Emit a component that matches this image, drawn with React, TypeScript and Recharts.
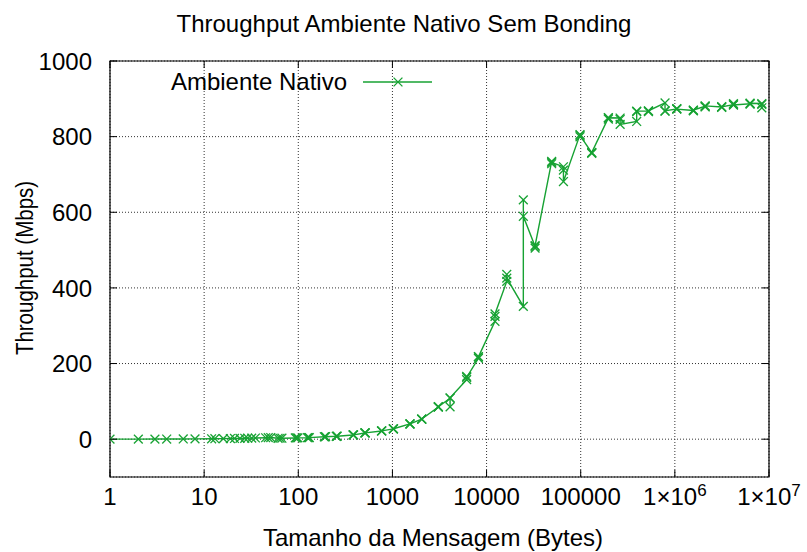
import React from "react";
import {
  LineChart,
  Line,
  XAxis,
  YAxis,
  CartesianGrid,
  ReferenceArea,
  Label,
} from "recharts";

// NetPIPE-style message sizes (bytes) and measured throughput (Mbps)
const messageSizes = [
  1, 2, 3, 4, 6, 8, 12, 13, 16, 19, 21, 24, 27, 29, 32, 35, 45, 48, 51, 61, 64, 67,
  93, 96, 99, 125, 128, 131, 189, 192, 195, 253, 256, 259, 381, 384, 387, 509, 512,
  515, 765, 768, 771, 1021, 1024, 1027, 1533, 1536, 1539, 2045, 2048, 2051, 3069,
  3072, 3075, 4093, 4096, 4099, 6141, 6144, 6147, 8189, 8192, 8195, 12285, 12288,
  12291, 16381, 16384, 16387, 24573, 24576, 24579, 32765, 32768, 32771, 49149, 49152,
  49155, 65533, 65536, 65539, 98301, 98304, 98307, 131069, 131072, 131075, 196605,
  196608, 196611, 262141, 262144, 262147, 393213, 393216, 393219, 524285, 524288,
  524291, 786429, 786432, 786435, 1048573, 1048576, 1048579, 1572861, 1572864,
  1572867, 2097149, 2097152, 2097155, 3145725, 3145728, 3145731, 4194301, 4194304,
  4194307, 6291453, 6291456, 6291459, 8388605, 8388608, 8388611,
];

const throughputMbps = [
  0.1, 0.2, 0.3, 0.4, 0.6, 0.8, 1.1, 1.2, 1.5, 1.7, 1.9, 2.2, 2.4, 2.6, 2.8, 3.1, 3.8,
  4.1, 4.3, 2.4, 2.5, 2.6, 3.3, 3.4, 3.5, 3.9, 4.0, 4.1, 6.3, 6.4, 6.5, 7.6, 7.7, 7.8,
  11.2, 11.3, 11.4, 16.5, 16.6, 16.7, 21.6, 21.8, 21.9, 27.2, 27.4, 27.5, 40.1, 40.4,
  40.6, 52.8, 53.1, 53.3, 84.6, 85.3, 86.0, 108.2, 85.4, 109.5, 157.4, 166.1, 163.2,
  213.8, 218.5, 217.6, 311.4, 324.7, 331.2, 417.3, 435.6, 425.8, 351.2, 632.9, 589.4,
  509.6, 505.3, 511.8, 734.5, 728.3, 731.9, 720.4, 711.6, 681.2, 805.3, 799.6, 803.1,
  757.4, 755.8, 758.2, 849.7, 846.3, 850.1, 849.2, 845.4, 832.3, 840.1, 866.2, 867.5,
  867.4, 865.9, 868.3, 889.1, 867.2, 868.4, 873.5, 874.2, 872.6, 869.3, 868.1, 870.4,
  880.2, 878.5, 881.3, 878.4, 877.2, 879.1, 884.6, 887.3, 883.5, 887.1, 886.2, 888.4,
  887.5, 876.3, 885.2,
];

const xTicks = [1, 10, 100, 1000, 10000, 100000, 1000000, 10000000];
const yTicks = [0, 200, 400, 600, 800, 1000];

const seriesName = "Ambiente Nativo";
const chartTitle = "Throughput Ambiente Nativo Sem Bonding";
const xTitle = "Tamanho da Mensagem (Bytes)";
const yTitle = "Throughput (Mbps)";

const data = messageSizes.map((size, i) => ({ size, throughput: throughputMbps[i] }));

const WIDTH = 807;
const HEIGHT = 552;
const PLOT_LEFT = 110;
const PLOT_RIGHT = 769;
const PLOT_TOP = 61;
const PLOT_BOTTOM = 477;
const TICK_LEN = 7;
const GREEN = "#17a233";
const FONT = "'Liberation Sans', Arial, Helvetica, sans-serif";
const FS = 24;

const Cross = ({ cx, cy }: any) => {
  if (cx == null || cy == null) return null;
  const r = 4.4;
  return (
    <g stroke={GREEN} strokeWidth={1.3}>
      <line x1={cx - r} y1={cy - r} x2={cx + r} y2={cy + r} />
      <line x1={cx - r} y1={cy + r} x2={cx + r} y2={cy - r} />
    </g>
  );
};

const XTick = ({ x, payload }: any) => {
  const v = payload.value as number;
  const exp = Math.round(Math.log10(v));
  return (
    <g>
      <line x1={x} x2={x} y1={PLOT_BOTTOM} y2={PLOT_BOTTOM - TICK_LEN} stroke="#000" />
      <line x1={x} x2={x} y1={PLOT_TOP} y2={PLOT_TOP + TICK_LEN} stroke="#000" />
      <text x={x} y={PLOT_BOTTOM + 28} textAnchor="middle" fontFamily={FONT} fontSize={FS} fill="#000">
        {exp >= 6 ? (
          <>
            1×10
            <tspan dy={-9} fontSize={17}>
              {exp}
            </tspan>
          </>
        ) : (
          String(v)
        )}
      </text>
    </g>
  );
};

const YTick = ({ y, payload }: any) => (
  <g>
    <line x1={PLOT_LEFT} x2={PLOT_LEFT + TICK_LEN} y1={y} y2={y} stroke="#000" />
    <line x1={PLOT_RIGHT} x2={PLOT_RIGHT - TICK_LEN} y1={y} y2={y} stroke="#000" />
    <text x={PLOT_LEFT - 18} y={y} dy="0.36em" textAnchor="end" fontFamily={FONT} fontSize={FS} fill="#000">
      {payload.value}
    </text>
  </g>
);

const XTitle = () => (
  <text x={433} y={546} textAnchor="middle" fontFamily={FONT} fontSize={FS} fill="#000">
    {xTitle}
  </text>
);

// rotated axis title, letters a bit taller than the run length suggests
const YTitle = () => (
  <text
    x={0}
    y={0}
    transform={`translate(33, 268) rotate(-90) scale(1, 1.15)`}
    textAnchor="middle"
    fontFamily={FONT}
    fontSize={20.5}
    fill="#000"
  >
    {yTitle}
  </text>
);

export default function App() {
  return (
    <div style={{ position: "absolute", left: 0, top: 0, width: WIDTH, height: HEIGHT, background: "#fff" }}>
      <div
        style={{
          position: "absolute",
          left: 0,
          top: 10,
          width: 808,
          textAlign: "center",
          fontFamily: FONT,
          fontSize: FS,
          lineHeight: "28px",
          color: "#000",
        }}
      >
        {chartTitle}
      </div>

      <LineChart
        width={WIDTH}
        height={HEIGHT}
        data={data}
        margin={{ top: PLOT_TOP, right: WIDTH - PLOT_RIGHT, bottom: 0, left: 0 }}
      >
        <CartesianGrid stroke="#333" strokeDasharray="1 2" strokeWidth={1} />
        <XAxis
          dataKey="size"
          type="number"
          scale="log"
          domain={[1, 10000000]}
          ticks={xTicks}
          allowDataOverflow
          height={HEIGHT - PLOT_BOTTOM}
          tickSize={0}
          axisLine={false}
          tick={<XTick />}
        >
          <Label content={<XTitle />} />
        </XAxis>
        <YAxis
          type="number"
          domain={[-100, 1000]}
          ticks={yTicks}
          allowDataOverflow
          width={PLOT_LEFT}
          tickSize={0}
          axisLine={false}
          tick={<YTick />}
        >
          <Label content={<YTitle />} />
        </YAxis>
        <ReferenceArea
          x1={1}
          x2={10000000}
          y1={-100}
          y2={1000}
          fill="none"
          fillOpacity={0}
          stroke="#000"
          strokeWidth={1.2}
          ifOverflow="visible"
        />
        <Line
          type="linear"
          dataKey="throughput"
          name={seriesName}
          stroke={GREEN}
          strokeWidth={1.4}
          dot={<Cross />}
          activeDot={false}
          isAnimationActive={false}
        />
      </LineChart>

      {/* key box in the upper-left of the plot */}
      <div
        style={{
          position: "absolute",
          left: 0,
          top: 68,
          width: 347,
          textAlign: "right",
          fontFamily: FONT,
          fontSize: FS,
          lineHeight: "28px",
          color: "#000",
        }}
      >
        {seriesName}
      </div>
      <svg style={{ position: "absolute", left: 360, top: 72 }} width={76} height={20}>
        <line x1={3} x2={72} y1={10} y2={10} stroke={GREEN} strokeWidth={1.4} />
        <Cross cx={38} cy={10} />
      </svg>
    </div>
  );
}
